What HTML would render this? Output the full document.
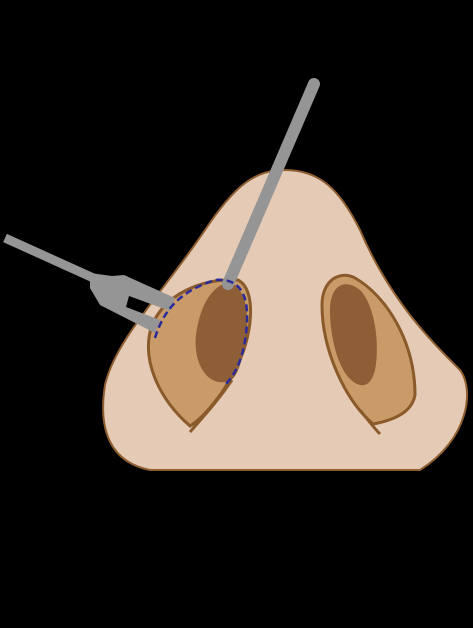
<!DOCTYPE html>
<html><head><style>html,body{margin:0;padding:0;background:#000;}svg{display:block}</style></head>
<body>
<svg width="473" height="628" viewBox="0 0 473 628">
<rect width="473" height="628" fill="#000"/>
<path d="M150,470 C110,462 98,430 105,385 C115,340 165,290 205,230 C235,185 255,170 285,170 C320,170 340,190 360,230 C390,300 430,340 460,370 C475,390 468,440 420,470 Z" fill="#e5cbb6" stroke="#8e5e30" stroke-width="2"/>
<g>
<path d="M190,426 C160,400 140,360 152,325 C165,295 200,278 238,280 C258,290 252,340 235,370 C220,400 200,420 190,426 Z" fill="#c99b68" stroke="#8a5a2a" stroke-width="3"/>
<path d="M225,382 C205,385 193,360 196,335 C200,305 212,285 230,282 C248,290 250,320 245,345 C240,370 235,382 225,382 Z" fill="#8e5e36"/>
<path d="M232,380 C215,405 200,420 190,432" fill="none" stroke="#8a5a2a" stroke-width="3"/>
</g>
<g>
<path d="M373,424 C345,400 322,350 322,305 C322,280 340,270 355,278 C385,295 415,340 415,395 C412,412 395,420 373,424 Z" fill="#c99b68" stroke="#8a5a2a" stroke-width="3"/>
<path d="M360,385 C340,380 330,340 330,310 C330,285 345,278 360,290 C375,305 380,345 375,370 C372,382 367,386 360,385 Z" fill="#8e5e36"/>
<path d="M360,410 C368,420 374,428 380,434" fill="none" stroke="#8a5a2a" stroke-width="3"/>
</g>
<g>
<line x1="314" y1="84" x2="228" y2="284" stroke="#959595" stroke-width="12" stroke-linecap="round"/>
</g>
<g>
<line x1="5" y1="238" x2="100" y2="281" stroke="#959595" stroke-width="9"/>
<path d="M90,273 L112,276 L124,275 L175,298 L170,311 L129,296 L126,307 L160,320 L155,333 L100,305 L90,288 Z" fill="#959595"/>
</g>
<path d="M155,338 C165,305 185,290 215,280 C238,278 248,292 247,320 C246,350 238,372 225,385" fill="none" stroke="#2a2a9a" stroke-width="2.5" stroke-dasharray="7,4"/>
</svg>
</body></html>
